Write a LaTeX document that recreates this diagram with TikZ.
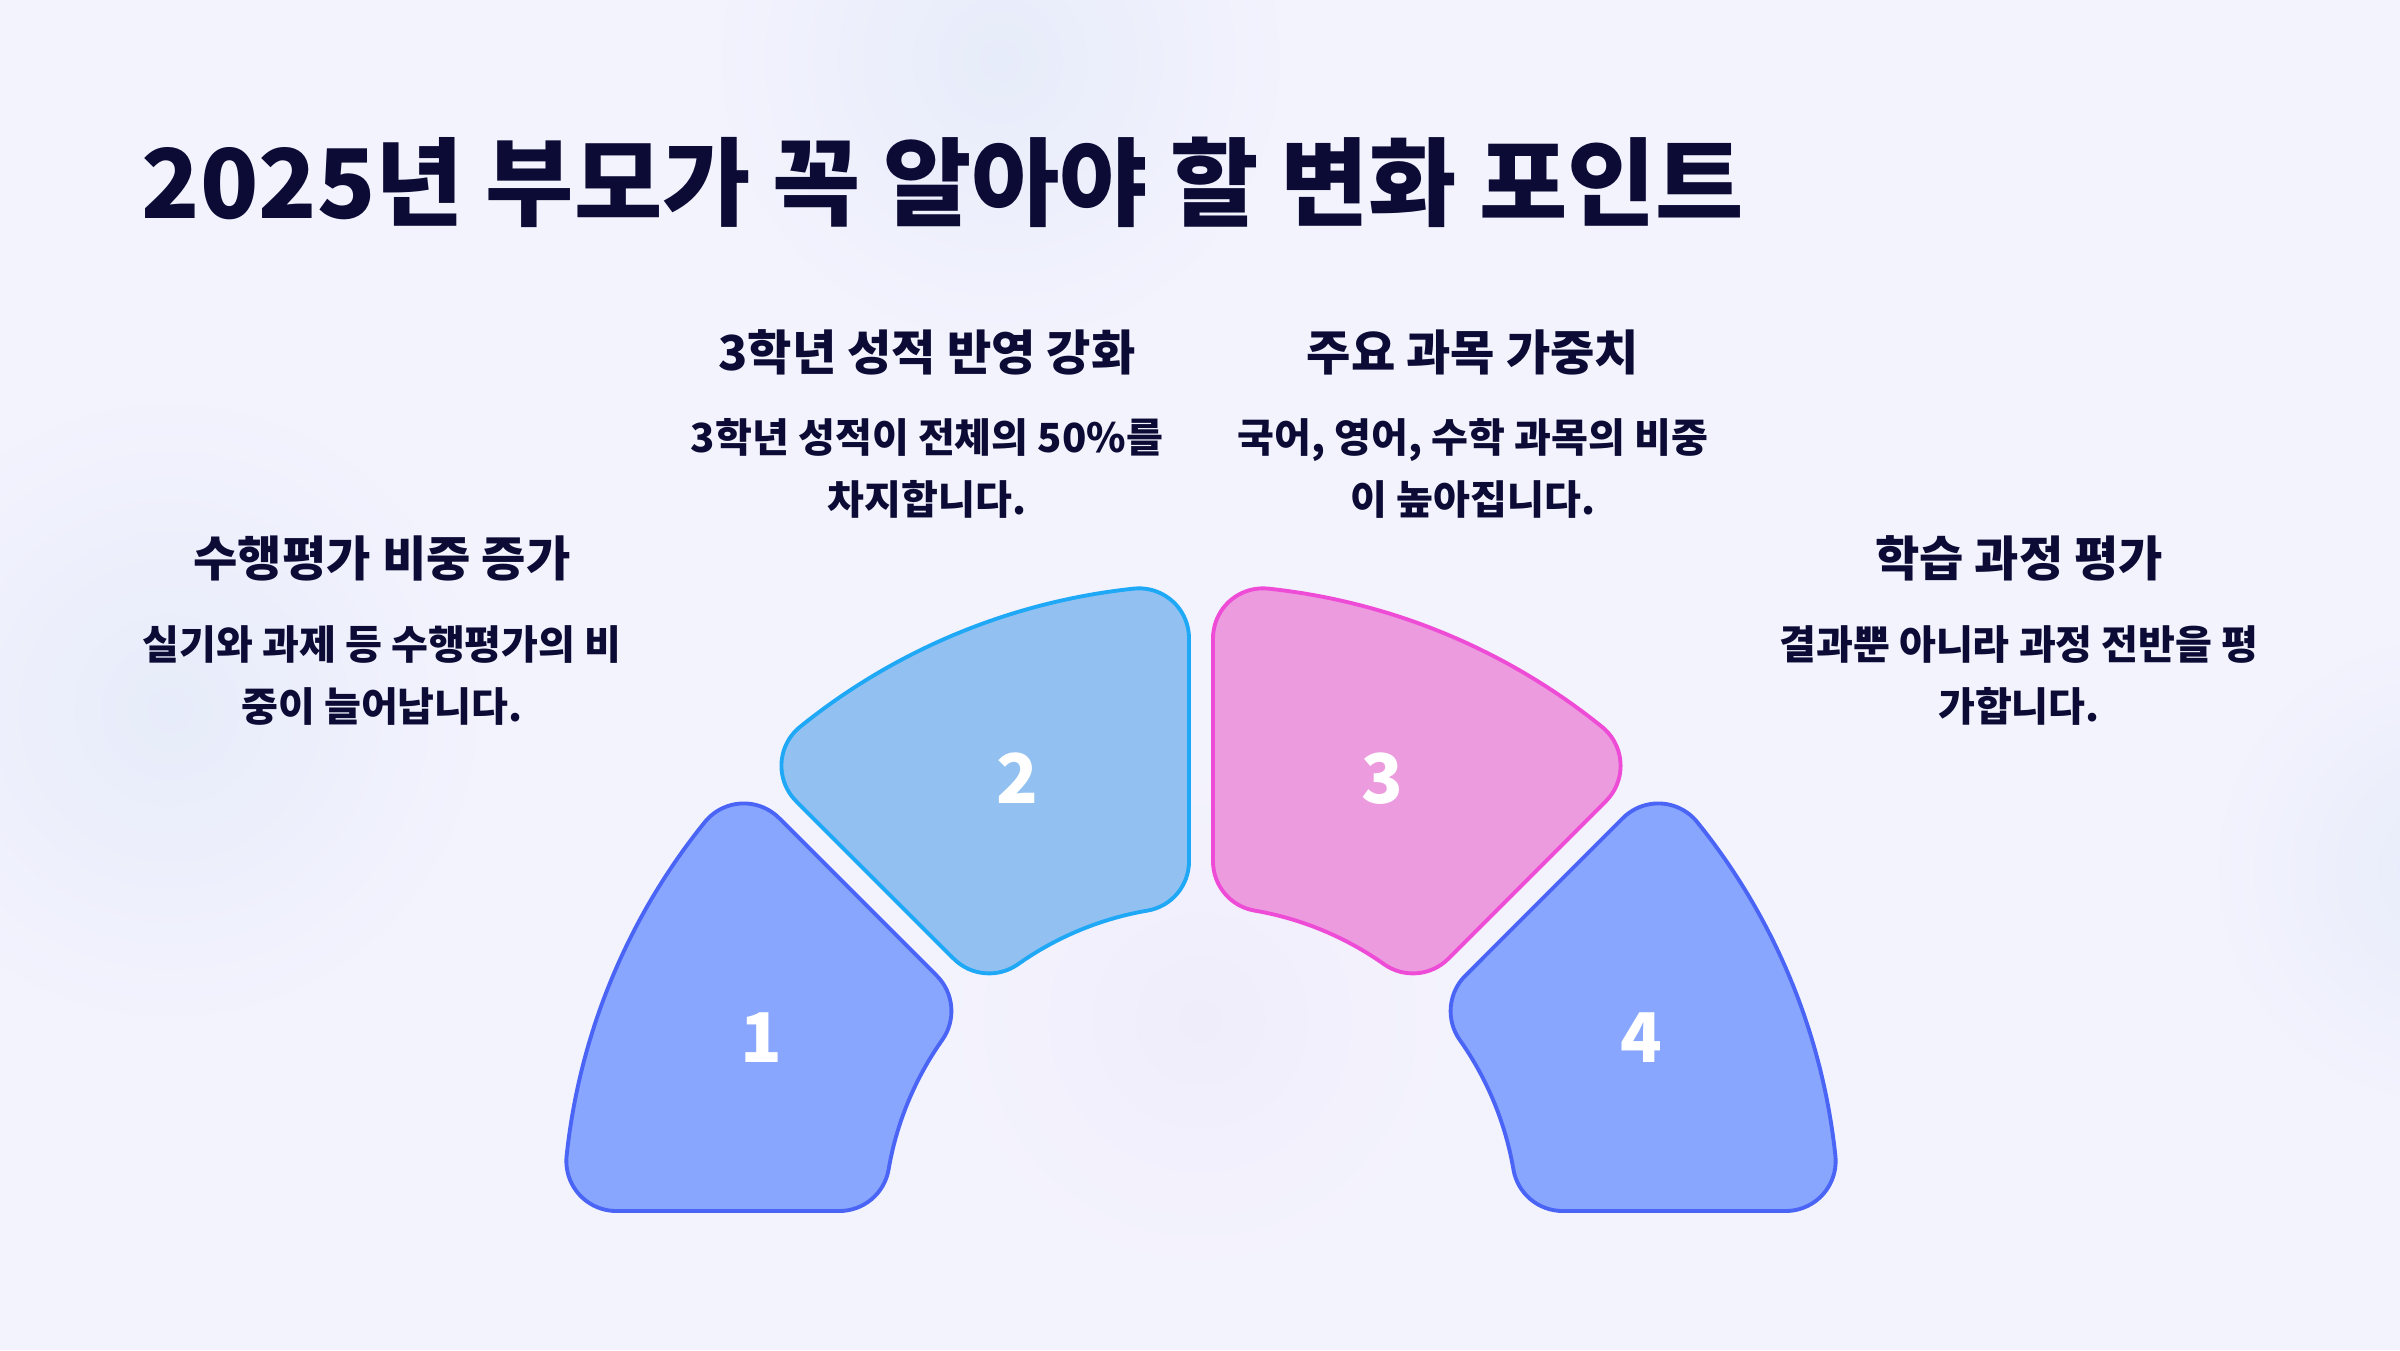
\documentclass[tikz,border=0pt]{standalone}
\usepackage{fontspec}
\setmainfont{Noto Sans CJK KR}
\definecolor{bg}{HTML}{F3F3FD}
\definecolor{blobB}{HTML}{E7ECFA}
\definecolor{blobP}{HTML}{F0EDFB}
\definecolor{ink}{HTML}{0B0B36}
\definecolor{fA}{HTML}{89A6FE}
\definecolor{sA}{HTML}{4A64F6}
\definecolor{fB}{HTML}{92C1F1}
\definecolor{sB}{HTML}{1EA8F6}
\definecolor{fC}{HTML}{EC9BDE}
\definecolor{sC}{HTML}{EE4CD6}
% one annular sector (half-angle 22.5 deg, gap 12, R=638, r=317, fillet 50), centred on the local x axis
\newcommand{\sectorshape}[1]{%
  \draw[#1] (-16.447:638) arc[start angle=-16.447, end angle=16.447, radius=638]
    arc[start angle=16.447, end angle=112.5, radius=50]
    -- (20.600:361.92)
    arc[start angle=112.5, end angle=192.774, radius=50]
    arc[start angle=12.774, end angle=-12.774, radius=317]
    arc[start angle=167.226, end angle=247.5, radius=50]
    -- (-21.324:584.84)
    arc[start angle=247.5, end angle=343.553, radius=50]
    -- cycle;}
\begin{document}
\begin{tikzpicture}[x=0.01cm,y=0.01cm,
  seg/.style={line width=1.1pt, line join=round},
  segA/.style={seg, fill=fA, draw=sA},
  segB/.style={seg, fill=fB, draw=sB},
  segC/.style={seg, fill=fC, draw=sC},
  titletext/.style={font=\bfseries\fontsize{27.3}{32}\selectfont, text=ink, inner sep=0pt, anchor=base west},
  headtext/.style={font=\bfseries\fontsize{13.7}{16}\selectfont, text=ink, inner sep=0pt, anchor=base},
  desctext/.style={font=\bfseries\fontsize{11.4}{14}\selectfont, text=ink, inner sep=0pt, anchor=base},
  numtext/.style={font=\bfseries\fontsize{19.5}{23}\selectfont, text=white, inner sep=0pt, anchor=base},
]
\fill[bg] (0,0) rectangle (2400,1350);
\useasboundingbox (0,0) rectangle (2400,1350);
% soft background blobs
\shade[inner color=blobB, outer color=bg] (170,640) circle (330);
\shade[inner color=blobB, outer color=bg] (1000,1290) circle (300);
\shade[inner color=blobP, outer color=bg] (1200,330) circle (260);
\shade[inner color=blobB, outer color=bg] (2450,480) circle (250);

% title
\node[titletext] (title) at (141,1132) {2025년 부모가 꼭 알아야 할 변화 포인트};

% segments
\begin{scope}[shift={(1201,127)}, rotate=157.5]\sectorshape{segA}\end{scope}
\begin{scope}[shift={(1201,127)}, rotate=112.5]\sectorshape{segB}\end{scope}
\begin{scope}[shift={(1201,127)}, rotate=67.5]\sectorshape{segC}\end{scope}
\begin{scope}[shift={(1201,127)}, rotate=22.5]\sectorshape{segA}\end{scope}

% numbers
\node[numtext] (n1) at (761,288) {1};
\node[numtext] (n2) at (1017,547) {2};
\node[numtext] (n3) at (1382,547) {3};
\node[numtext] (n4) at (1641,288) {4};

% item 1
\node[headtext] (h1) at (382,774) {수행평가 비중 증가};
\node[desctext] (d1a) at (382,691) {실기와 과제 등 수행평가의 비};
\node[desctext] (d1b) at (382,629) {중이 늘어납니다.};
% item 2
\node[headtext] (h2) at (927,980) {3학년 성적 반영 강화};
\node[desctext] (d2a) at (927,898) {3학년 성적이 전체의 50\%를};
\node[desctext] (d2b) at (927,836) {차지합니다.};
% item 3
\node[headtext] (h3) at (1473,980) {주요 과목 가중치};
\node[desctext] (d3a) at (1473,898) {국어, 영어, 수학 과목의 비중};
\node[desctext] (d3b) at (1473,836) {이 높아집니다.};
% item 4
\node[headtext] (h4) at (2019,774) {학습 과정 평가};
\node[desctext] (d4a) at (2019,691) {결과뿐 아니라 과정 전반을 평};
\node[desctext] (d4b) at (2019,629) {가합니다.};
\end{tikzpicture}
\end{document}
